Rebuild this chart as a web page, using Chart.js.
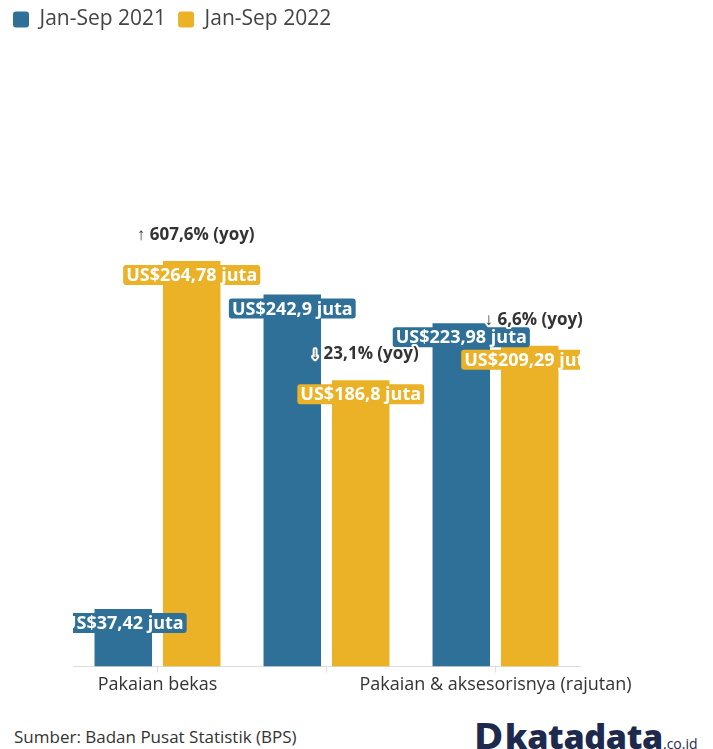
<!DOCTYPE html>
<html>
<head>
<meta charset="utf-8">
<script src="https://cdn.jsdelivr.net/npm/chart.js@4/dist/chart.umd.min.js"></script>
<style>
  body { margin: 0; background: #fff; font-family: "Open Sans", sans-serif; }
  #wrap { position: relative; width: 713px; height: 705px; }
  #footer { position: absolute; top: 712px; left: 0; width: 713px; height: 37px; }
  #source { position: absolute; left: 14px; top: 13px; font-size: 17px; color: #333; }
  #logo { position: absolute; left: 474px; top: 1px; color: #1d2a4d; white-space: nowrap; }
  #logo .d { font-size: 35px; font-weight: 800; font-family: "DejaVu Sans", sans-serif; }
  #logo .name { font-size: 34px; font-weight: 800; letter-spacing: -0.3px; margin-left: 2px; }
  #logo .tld { font-size: 14px; }
</style>
</head>
<body>
<div id="wrap"><canvas id="chart" width="713" height="705"></canvas></div>
<div id="footer">
  <div id="source">Sumber: Badan Pusat Statistik (BPS)</div>
  <div id="logo"><span class="d">D</span><span class="name">katadata</span><span class="tld">.co.id</span></div>
</div>
<script>
// data (US$ juta)
const categories = ['Pakaian bekas', 'Pakaian & aksesorisnya (bukan rajutan)', 'Pakaian & aksesorisnya (rajutan)'];
const series2021 = [37.42, 242.9, 223.98];
const series2022 = [264.78, 186.8, 209.29];
const yoyChange = [607.6, -23.1, -6.6];

const blue = '#2f7099';
const yellow = '#ebb127';

// indonesian decimal comma
function fmt(v) {
  return v.toString().replace('.', ',');
}

// value boxes on top of the bars, clipped to the plot area like the original
const barLabels = {
  id: 'barLabels',
  afterDatasetsDraw(chart) {
    const ctx = chart.ctx;
    const area = chart.chartArea;
    ctx.save();
    ctx.beginPath();
    ctx.rect(area.left, 0, area.right - area.left, chart.height);
    ctx.clip();
    ctx.font = 'bold 18px "Open Sans"';
    ctx.textAlign = 'center';
    ctx.textBaseline = 'middle';
    chart.data.datasets.forEach((ds, di) => {
      chart.getDatasetMeta(di).data.forEach((bar, i) => {
        const txt = 'US$' + fmt(ds.data[i]) + ' juta';
        const w = ctx.measureText(txt).width + 6;
        const y = bar.y + 14;
        ctx.fillStyle = ds.backgroundColor;
        ctx.beginPath();
        ctx.roundRect(bar.x - w / 2, y - 10, w, 20, 3);
        ctx.fill();
        ctx.fillStyle = '#fff';
        ctx.fillText(txt, bar.x, y + 1);
      });
    });
    ctx.restore();

    // yoy change above the 2022 bars
    ctx.save();
    ctx.font = 'bold 17px "Open Sans"';
    ctx.textAlign = 'center';
    ctx.textBaseline = 'middle';
    ctx.lineJoin = 'round';
    const meta = chart.getDatasetMeta(1);
    yoyChange.forEach((c, i) => {
      const bar = meta.data[i];
      const txt = (c >= 0 ? '\u2191 ' : '\u2193 ') + fmt(Math.abs(c)) + '% (yoy)';
      ctx.strokeStyle = '#fff';
      ctx.lineWidth = 4;
      ctx.strokeText(txt, bar.x + 4, bar.y - 26);
      ctx.fillStyle = '#333';
      ctx.fillText(txt, bar.x + 4, bar.y - 26);
    });
    ctx.restore();
  }
};

new Chart(document.getElementById('chart'), {
  type: 'bar',
  data: {
    labels: categories,
    datasets: [
      { label: 'Jan-Sep 2021', data: series2021, backgroundColor: blue, categoryPercentage: 0.81, barPercentage: 0.84 },
      { label: 'Jan-Sep 2022', data: series2022, backgroundColor: yellow, categoryPercentage: 0.81, barPercentage: 0.84 }
    ]
  },
  plugins: [barLabels],
  options: {
    responsive: false,
    animation: false,
    layout: { padding: { left: 1, right: 133, top: -3, bottom: 7 } },
    plugins: {
      legend: {
        position: 'top',
        align: 'start',
        labels: {
          boxWidth: 16,
          boxHeight: 16,
          useBorderRadius: true,
          borderRadius: 3,
          color: '#444',
          padding: 12,
          font: { family: 'Open Sans', size: 21 }
        }
      },
      tooltip: { enabled: false }
    },
    scales: {
      x: {
        grid: { display: true, drawOnChartArea: false, offset: false, color: '#ddd', tickLength: 6 },
        border: { display: true, color: '#ddd' },
        ticks: {
          autoSkip: false,
          maxRotation: 0,
          color: '#333',
          padding: 2,
          font: { family: 'Open Sans', size: 18 },
          // the middle category has no label in the original
          callback: function (v, i) { return i === 1 ? '' : this.getLabelForValue(v); }
        }
      },
      y: {
        min: 0,
        max: 409,
        grid: { display: false },
        border: { display: false },
        ticks: { display: false },
        afterFit: scale => { scale.width = 72; }
      }
    }
  }
});
</script>
</body>
</html>
